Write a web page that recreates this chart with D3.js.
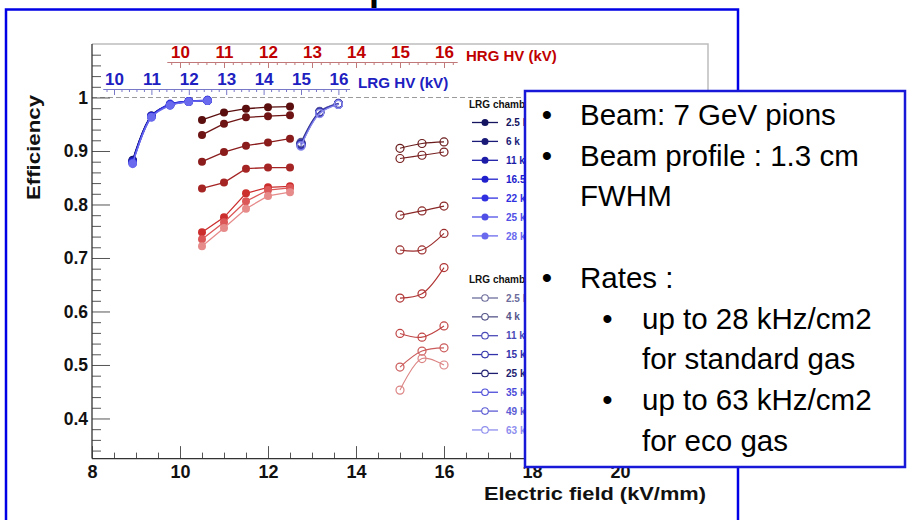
<!DOCTYPE html>
<html><head><meta charset="utf-8">
<script src="https://cdn.jsdelivr.net/npm/d3@7"></script>
<style>
body{margin:0;background:#fff;}
svg{display:block;}
text{font-family:"Liberation Sans",Arial,Helvetica,sans-serif;}
</style></head><body>
<svg id="c" width="916" height="520"></svg>
<script>
// ---------------- data ----------------
const xTickValues = [8, 10, 12, 14, 16, 18, 20];
const yTickValues = [0.4, 0.5, 0.6, 0.7, 0.8, 0.9, 1];
const yTickLabels = ["0.4", "0.5", "0.6", "0.7", "0.8", "0.9", "1"];
const hvTickValues = [10, 11, 12, 13, 14, 15, 16];

// HV points (kV)
const hvStd = [10.5, 11, 11.5, 12, 12.5];
const hvEco = [15, 15.5, 16];

// LRG chamber, standard gas (filled)
const lrgStdRates = ["2.5", "6", "11", "16.5", "22", "25", "28"];
const lrgStdEff = [
  [0.883, 0.966, 0.986, 0.992, 0.994],
  [0.882, 0.966, 0.987, 0.993, 0.994],
  [0.881, 0.965, 0.987, 0.992, 0.995],
  [0.880, 0.965, 0.986, 0.993, 0.994],
  [0.878, 0.964, 0.988, 0.993, 0.995],
  [0.877, 0.963, 0.986, 0.992, 0.994],
  [0.876, 0.963, 0.985, 0.992, 0.994]
];
// LRG chamber, eco gas (open)
const lrgEcoRates = ["2.5", "4", "11", "15", "25", "35", "49", "63"];
const lrgEcoEff = [
  [0.916, 0.974, 0.989],
  [0.915, 0.973, 0.988],
  [0.914, 0.973, 0.989],
  [0.913, 0.972, 0.988],
  [0.912, 0.972, 0.988],
  [0.911, 0.971, 0.987],
  [0.910, 0.971, 0.988],
  [0.909, 0.970, 0.987]
];
// HRG chamber, standard gas (filled)
const hrgStdEff = [
  [0.958, 0.972, 0.979, 0.982, 0.983],
  [0.930, 0.951, 0.963, 0.965, 0.967],
  [0.880, 0.898, 0.910, 0.916, 0.923],
  [0.830, 0.841, 0.867, 0.869, 0.869],
  [0.748, 0.776, 0.821, 0.832, 0.834],
  [0.735, 0.767, 0.806, 0.827, 0.831],
  [0.722, 0.756, 0.792, 0.816, 0.823]
];
// HRG chamber, eco gas (open)
const hrgEcoEff = [
  [0.905, 0.914, 0.917],
  [0.886, 0.892, 0.898],
  [0.780, 0.788, 0.797],
  [0.715, 0.715, 0.746],
  [0.625, 0.633, 0.682],
  [0.559, 0.552, 0.573],
  [0.496, 0.526, 0.532],
  [0.453, 0.512, 0.500]
];

const bulletLines = [
  {level: 1, text: "Beam: 7 GeV pions"},
  {level: 1, text: "Beam profile : 1.3 cm"},
  {level: 0, text: "FWHM"},
  {level: -1, text: ""},
  {level: 1, text: "Rates :"},
  {level: 2, text: "up to 28 kHz/cm2"},
  {level: 0.5, text: "for standard gas"},
  {level: 2, text: "up to 63 kHz/cm2"},
  {level: 0.5, text: "for eco gas"}
];

// ---------------- styles ----------------
const lrgStdColors = ["#141460", "#1a1a78", "#1c1ca8", "#2020cc", "#3030e0", "#5050e6", "#6a6aee"];
const lrgEcoColors = ["#6c6c9c", "#55558a", "#4a4ab8", "#3232aa", "#1e1e70", "#4c4cd8", "#5c5cd4", "#8e8eee"];
const hrgStdColors = ["#5a0e0e", "#6e1414", "#8a1c1c", "#a52424", "#cc2e2e", "#dc5858", "#e68a8a"];
const hrgEcoColors = ["#6a1c1c", "#782020", "#8a2828", "#9c2e2e", "#b03434", "#c04444", "#cc5c5c", "#dc8484"];
const HRG_RED = "#c00000", LRG_BLUE = "#2020c0";

// field conversion (kV -> kV/mm)
const hrgField = 1.0, lrgField = 0.85;

const svg = d3.select("#c");
const x = d3.scaleLinear().domain([8, 22]).range([92, 708]);
const y = d3.scaleLinear().domain([0.325, 1.1]).range([458.6, 44]);
const X0 = x(8), X1 = x(22), Y0 = y(0.325), Y1 = y(1.1);

// clip for legend texts hidden by the text box
svg.append("defs").append("clipPath").attr("id", "legClip")
  .append("rect").attr("x", 0).attr("y", 0).attr("width", 524).attr("height", 520);

// outer slide border
svg.append("rect").attr("x", 6).attr("y", 9.5).attr("width", 732).attr("height", 530)
  .attr("fill", "none").attr("stroke", "#0000e6").attr("stroke-width", 2.5);
// title fragment
svg.append("text").attr("x", 369).attr("y", 0).attr("font-size", 36).attr("font-weight", "bold")
  .attr("fill", "#000").text("p");

// frame
svg.append("path").attr("d", `M${X0},${Y1}H${X1}V${Y0}`).attr("fill", "none")
  .attr("stroke", "#bdbdbd").attr("stroke-width", 1.5);

// dashed line at efficiency 1
svg.append("line").attr("x1", X0).attr("x2", X1).attr("y1", y(1)).attr("y2", y(1))
  .attr("stroke", "#9a9a9a").attr("stroke-dasharray", "5,3").attr("stroke-width", 1);

const isMajor = (v, step) => Math.abs(v / step - Math.round(v / step)) < 1e-6;

// x axis
const xMinor = d3.range(17, 44).map(i => i * 0.5).filter(v => !isMajor(v, 2));
svg.append("g").attr("transform", `translate(0,${Y0})`)
  .call(d3.axisBottom(x).tickValues(xMinor).tickSize(-6).tickFormat(""))
  .call(g => g.select(".domain").remove());
svg.append("g").attr("transform", `translate(0,${Y0})`)
  .call(d3.axisBottom(x).tickValues([...xTickValues, 22]).tickSizeInner(-12.5).tickSizeOuter(0).tickPadding(7)
    .tickFormat(d => xTickValues.includes(d) ? String(d) : ""))
  .call(g => g.select(".domain").remove())
  .call(g => g.selectAll("text").attr("font-size", 18).attr("font-weight", "bold").attr("fill", "#111")
    .attr("font-family", "Liberation Sans, Arial, sans-serif"));

// y axis
const yMinor = d3.range(17, 56).map(i => +(i * 0.02).toFixed(2)).filter(v => !isMajor(v, 0.1));
svg.append("g").attr("transform", `translate(${X0},0)`)
  .call(d3.axisLeft(y).tickValues(yMinor).tickSize(-9).tickFormat(""))
  .call(g => g.select(".domain").remove());
svg.append("g").attr("transform", `translate(${X0},0)`)
  .call(d3.axisLeft(y).tickValues(yTickValues).tickSizeInner(-18).tickSizeOuter(0).tickPadding(4)
    .tickFormat((d, i) => yTickLabels[i]))
  .call(g => g.select(".domain").remove())
  .call(g => g.selectAll("text").attr("font-size", 17.5).attr("font-weight", "bold").attr("fill", "#111")
    .attr("font-family", "Liberation Sans, Arial, sans-serif"));
svg.selectAll(".tick line").attr("stroke", "#555");

// axis lines
svg.append("line").attr("x1", X0).attr("x2", X1).attr("y1", Y0).attr("y2", Y0).attr("stroke", "#333").attr("stroke-width", 1.3);
svg.append("line").attr("x1", X0).attr("x2", X0).attr("y1", Y1).attr("y2", Y0).attr("stroke", "#333").attr("stroke-width", 1.3);

// axis titles
svg.append("text").attr("x", 706).attr("y", 500).attr("text-anchor", "end")
  .attr("font-size", 18.5).attr("font-weight", "bold").attr("fill", "#111")
  .attr("textLength", 222).attr("lengthAdjust", "spacingAndGlyphs").text("Electric field (kV/mm)");
svg.append("text").attr("transform", "translate(40,200) rotate(-90)")
  .attr("font-size", 18.5).attr("font-weight", "bold").attr("fill", "#111")
  .attr("textLength", 105).attr("lengthAdjust", "spacingAndGlyphs").text("Efficiency");

// top HV axes
function hvAxis(field, yPos, color, lineColor, title, titleX, titleY, fontSize, titleSize) {
  const s = d3.scaleLinear().domain([9.7, 16.3]).range([x(9.7 * field), x(16.3 * field)]);
  const minor = d3.range(49, 82).map(i => +(i * 0.2).toFixed(1)).filter(v => !isMajor(v, 1));
  svg.append("g").attr("transform", `translate(0,${yPos})`)
    .call(d3.axisTop(s).tickValues(minor).tickSize(-3).tickFormat(""))
    .call(g => g.select(".domain").remove())
    .call(g => g.selectAll("line").attr("stroke", lineColor));
  svg.append("g").attr("transform", `translate(0,${yPos})`)
    .call(d3.axisTop(s).tickValues(hvTickValues).tickSizeInner(-6).tickSizeOuter(0).tickPadding(4)
      .tickFormat(d => String(d)))
    .call(g => g.select(".domain").attr("stroke", lineColor))
    .call(g => g.selectAll("line").attr("stroke", lineColor))
    .call(g => g.selectAll("text").attr("font-size", fontSize).attr("font-weight", "bold").attr("fill", color)
      .attr("font-family", "Liberation Sans, Arial, sans-serif"));
  svg.append("text").attr("x", titleX).attr("y", titleY).attr("font-size", titleSize)
    .attr("font-weight", "bold").attr("fill", color).text(title);
}
hvAxis(hrgField, 62, HRG_RED, "#c07878", "HRG HV (kV)", 466, 60.5, 17, 15);
hvAxis(lrgField, 89, LRG_BLUE, "#7878c8", "LRG HV (kV)", 358, 87.5, 17, 15.2);

// series
function drawSeries(hv, field, eff, color, filled, curve, r) {
  const pts = hv.map((h, i) => [x(h * field), y(eff[i])]);
  svg.append("path").attr("d", d3.line().curve(curve)(pts)).attr("fill", "none")
    .attr("stroke", color).attr("stroke-width", filled ? 1.3 : 1.1);
  svg.append("g").selectAll("circle").data(pts).join("circle")
    .attr("cx", d => d[0]).attr("cy", d => d[1]).attr("r", r)
    .attr("fill", filled ? color : "none").attr("stroke", color).attr("stroke-width", filled ? 0 : 1.2);
}
hrgStdEff.forEach((e, i) => drawSeries(hvStd, hrgField, e, hrgStdColors[i], true, d3.curveLinear, 4));
hrgEcoEff.forEach((e, i) => drawSeries(hvEco, hrgField, e, hrgEcoColors[i], false, d3.curveCatmullRom, 4));
lrgEcoEff.forEach((e, i) => drawSeries(hvEco, lrgField, e, lrgEcoColors[i], false, d3.curveCatmullRom, 4));
lrgStdEff.forEach((e, i) => drawSeries(hvStd, lrgField, e, lrgStdColors[i], true, d3.curveCatmullRom, 4.3));

// legends (partly hidden by the text box)
const legG = svg.append("g").attr("clip-path", "url(#legClip)");
function legend(titleY, firstY, step, rates, colors, filled) {
  legG.append("text").attr("x", 469).attr("y", titleY).attr("font-size", 10).attr("font-weight", "bold")
    .attr("fill", "#111").text("LRG chamb");
  rates.forEach((r, i) => {
    const yy = firstY + i * step;
    legG.append("line").attr("x1", 472).attr("x2", 498).attr("y1", yy).attr("y2", yy)
      .attr("stroke", colors[i]).attr("stroke-width", 1.3);
    legG.append("circle").attr("cx", 485).attr("cy", yy).attr("r", filled ? 3.5 : 3.3)
      .attr("fill", filled ? colors[i] : "#fff").attr("stroke", colors[i]).attr("stroke-width", filled ? 0 : 1.1);
    legG.append("text").attr("x", 506).attr("y", yy + 3.6).attr("font-size", 10).attr("font-weight", "bold")
      .attr("fill", colors[i]).text(r + " k");
  });
}
legend(107.5, 122.5, 18.9, lrgStdRates, lrgStdColors, true);
legend(282.5, 298, 18.85, lrgEcoRates, lrgEcoColors, false);

// text box
svg.append("rect").attr("x", 525).attr("y", 91).attr("width", 380).attr("height", 376)
  .attr("fill", "#fff").attr("stroke", "#1818d8").attr("stroke-width", 2.5);
const tb = svg.append("g").attr("fill", "#000");
bulletLines.forEach((l, i) => {
  const by = 125 + i * 40.7;
  if (l.level < 0) return;
  const tx = (l.level >= 2 || l.level === 0.5) ? 642 : 580;
  if (l.level === 1 || l.level === 2) {
    tb.append("text").attr("x", l.level === 1 ? 547 : 607.5).attr("y", by).attr("text-anchor", "middle")
      .attr("font-family", "Open Sans, sans-serif").attr("font-size", 29.5).text("•");
  }
  tb.append("text").attr("x", tx).attr("y", by).attr("font-family", "Open Sans, sans-serif")
    .attr("font-size", 29.5).text(l.text);
});
</script>
</body></html>
